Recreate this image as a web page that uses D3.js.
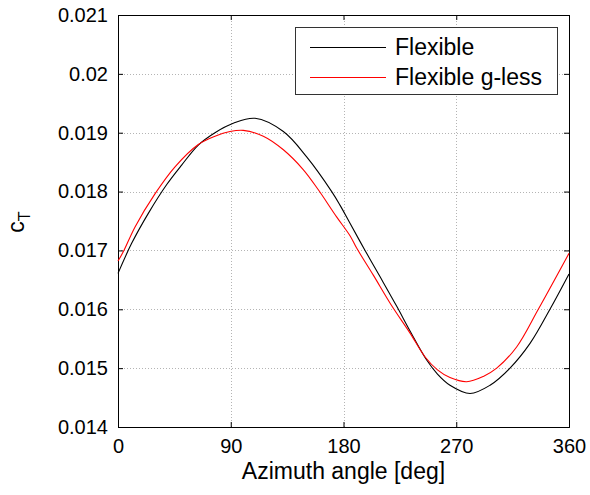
<!DOCTYPE html>
<html>
<head>
<meta charset="utf-8">
<script src="https://cdn.jsdelivr.net/npm/d3@7"></script>
<style>
  html, body { margin: 0; padding: 0; background: #fff; }
  svg { display: block; font-family: "Liberation Sans", Arial, sans-serif; }
</style>
</head>
<body>
<svg id="chart" width="590" height="495"></svg>
<script>
// ---- data ----
const xTicks = [0, 90, 180, 270, 360];
const yTicks = [0.014, 0.015, 0.016, 0.017, 0.018, 0.019, 0.02, 0.021];
const yTickLabels = ["0.014", "0.015", "0.016", "0.017", "0.018", "0.019", "0.02", "0.021"];
const seriesNames = ["Flexible", "Flexible g-less"];
const seriesColors = ["#000000", "#ff0000"];

const flexAngle = [0, 10.9, 24.2, 38.9, 50.8, 64.1, 77.4, 92, 109.4, 132, 150.6, 170.6, 177.2, 185.2, 197.2, 209.1, 222.5, 233, 246.4, 255, 265, 281, 297, 312.9, 328.9, 344.8, 360];
const flexCt = [0.01661, 0.01712, 0.01763, 0.01812, 0.01845, 0.01879, 0.01900, 0.01916, 0.019245, 0.01902, 0.01859, 0.01800, 0.01777, 0.01746, 0.01700, 0.016556, 0.01605, 0.015636, 0.015138, 0.01490, 0.01471, 0.01457, 0.01471, 0.01500, 0.01542, 0.01600, 0.01660];

const glessAngle = [0, 4.3, 13.6, 29.5, 45.5, 64.1, 77.4, 89.4, 100, 116, 132, 148, 159.9, 174.5, 185.2, 190.5, 203.8, 218.5, 233, 245, 255, 265, 278.3, 291.6, 302.3, 318.2, 335.5, 360];
const glessCt = [0.01682, 0.01698, 0.01740, 0.01796, 0.01842, 0.01880, 0.01894, 0.01902, 0.01904, 0.01894, 0.01871, 0.01837, 0.01803, 0.01757, 0.01725, 0.01704, 0.01658, 0.01606, 0.01560, 0.015194, 0.01497, 0.01484, 0.01477, 0.01486, 0.01500, 0.01536, 0.01600, 0.01695];

// ---- layout ----
const svg = d3.select("#chart");
const L = 118, R = 569, T = 15, B = 427;
const x = d3.scaleLinear().domain([0, 360]).range([L, R]);
const y = d3.scaleLinear().domain([0.014, 0.021]).range([B, T]);
const fs = 20;
const fsBig = 23;

// grid
const grid = svg.append("g").attr("stroke", "#b4b4b4").attr("stroke-width", 1).attr("stroke-dasharray", "1,2");
xTicks.slice(1, -1).forEach(t => {
  grid.append("line").attr("x1", Math.round(x(t)) + 0.5).attr("x2", Math.round(x(t)) + 0.5).attr("y1", T).attr("y2", B);
});
yTicks.slice(1, -1).forEach(t => {
  grid.append("line").attr("y1", Math.round(y(t)) + 0.5).attr("y2", Math.round(y(t)) + 0.5).attr("x1", L).attr("x2", R);
});

// axes (inward ticks on all four sides)
const fmtY = d => yTickLabels[yTicks.indexOf(d)] || "";
const axB = svg.append("g").attr("transform", `translate(0,${B})`)
  .call(d3.axisBottom(x).tickValues(xTicks).tickSize(-5).tickPadding(12).tickFormat(d3.format("d")));
const axT = svg.append("g").attr("transform", `translate(0,${T})`)
  .call(d3.axisTop(x).tickValues(xTicks).tickSize(-5).tickFormat(""));
const axL = svg.append("g").attr("transform", `translate(${L},0)`)
  .call(d3.axisLeft(y).tickValues(yTicks).tickSize(-5).tickPadding(10).tickFormat(fmtY));
const axR = svg.append("g").attr("transform", `translate(${R},0)`)
  .call(d3.axisRight(y).tickValues(yTicks).tickSize(-5).tickFormat(""));
[axB, axT, axL, axR].forEach(a => {
  a.select(".domain").attr("stroke", "#000").attr("stroke-width", 1);
  a.selectAll(".tick line").attr("stroke", "#000");
  a.selectAll("text").attr("font-size", fs).attr("font-family", "Liberation Sans, Arial, sans-serif").attr("fill", "#000");
});

// lines
const line = d3.line().x(d => x(d[0])).y(d => y(d[1])).curve(d3.curveCatmullRom.alpha(0.5));
const series = [
  d3.zip(flexAngle, flexCt),
  d3.zip(glessAngle, glessCt)
];
series.forEach((s, i) => {
  svg.append("path").datum(s).attr("d", line)
    .attr("fill", "none").attr("stroke", seriesColors[i]).attr("stroke-width", 1.1);
});

// legend
const lg = svg.append("g");
lg.append("rect").attr("x", 295.5).attr("y", 27.5).attr("width", 262).attr("height", 67)
  .attr("fill", "#fff").attr("stroke", "#333").attr("stroke-width", 1);
seriesNames.forEach((n, i) => {
  const yy = 47 + i * 30;
  lg.append("line").attr("x1", 310).attr("x2", 386).attr("y1", yy + 0.5).attr("y2", yy + 0.5)
    .attr("stroke", seriesColors[i]).attr("stroke-width", 1);
  lg.append("text").attr("x", 395).attr("y", yy).attr("dy", "0.35em")
    .attr("font-size", fsBig).attr("fill", "#000").text(n);
});

// axis labels
svg.append("text").attr("x", (L + R) / 2).attr("y", 479).attr("text-anchor", "middle")
  .attr("font-size", fsBig).attr("fill", "#000").text("Azimuth angle [deg]");
const yl = svg.append("text").attr("transform", "translate(24,222) rotate(-90)")
  .attr("text-anchor", "middle").attr("font-size", fsBig).attr("fill", "#000");
yl.append("tspan").text("c");
yl.append("tspan").attr("font-size", 16).attr("dy", 6).text("T");
</script>
</body>
</html>
